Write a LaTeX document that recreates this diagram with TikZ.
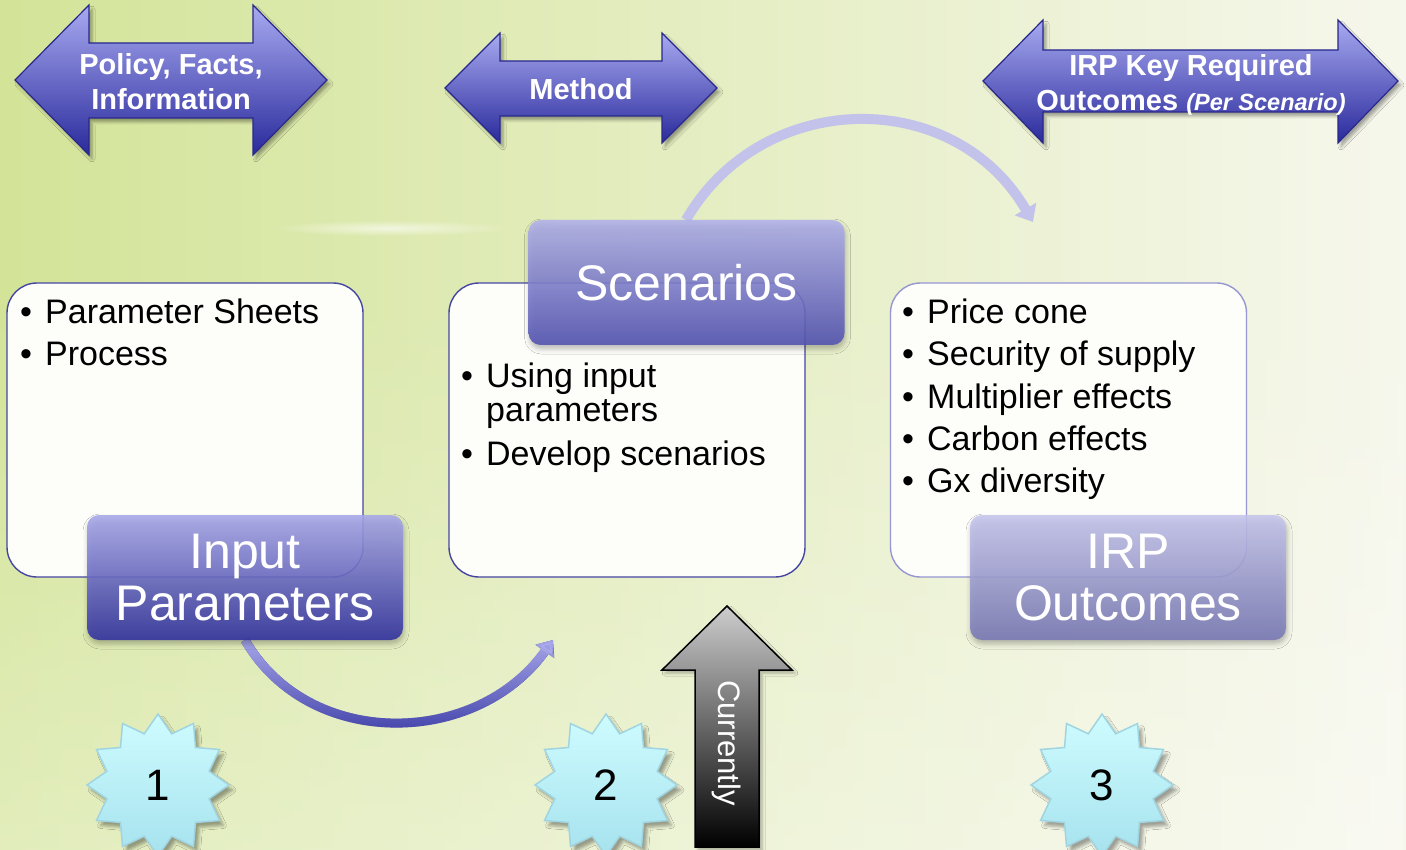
\documentclass[tikz,border=0pt]{standalone}
\usepackage{fontspec}
\setmainfont{Liberation Sans}
\usetikzlibrary{shapes.geometric,shadows.blur,fadings,arrows.meta,calc}

\definecolor{bgL}{RGB}{211,228,152}
\definecolor{bgM}{RGB}{238,243,218}
\definecolor{bgR}{RGB}{246,247,236}
\definecolor{arrTop}{RGB}{168,170,240}
\definecolor{arrBot}{RGB}{42,42,156}
\definecolor{arrLine}{RGB}{40,40,140}
\definecolor{boxLine}{RGB}{70,70,160}
\definecolor{boxLineL}{RGB}{150,150,210}
\definecolor{boxFill}{RGB}{253,254,250}
\definecolor{ipTop}{RGB}{168,168,234}
\definecolor{ipBot}{RGB}{48,48,160}
\definecolor{scTop}{RGB}{178,178,236}
\definecolor{scBot}{RGB}{82,82,178}
\definecolor{ocTop}{RGB}{198,198,238}
\definecolor{ocBot}{RGB}{120,120,182}
\definecolor{curveDark}{RGB}{44,44,156}
\definecolor{curveLight}{RGB}{170,170,236}
\definecolor{curveTop}{RGB}{194,194,234}
\definecolor{starTop}{RGB}{206,252,255}
\definecolor{starBot}{RGB}{166,226,238}
\definecolor{starLine}{RGB}{160,212,224}
\definecolor{curTop}{RGB}{205,205,205}

\tikzfading[name=glarefade, inner color=transparent!0, outer color=transparent!100]

\tikzset{
  darr/.style={top color=arrTop, bottom color=arrBot, draw=arrLine, line width=1.2pt,
    line join=miter,
    blur shadow={shadow xshift=3pt, shadow yshift=-4pt, shadow opacity=35, shadow blur radius=3pt}},
  atext/.style={text=white, font=\fontsize{29}{35}\selectfont\bfseries, align=center, inner sep=0pt},
  wbox/.style={draw=boxLine, line width=1.4pt, fill=boxFill, rounded corners=30pt,
    minimum width=356pt, minimum height=294pt, inner sep=0pt},
  lbl/.style={rounded corners=12pt, minimum width=316pt, minimum height=125pt,
    text=white, font=\fontsize{50}{52}\selectfont, align=center, inner sep=0pt,
    fill opacity=0.88, text opacity=1,
    blur shadow={shadow xshift=1pt, shadow yshift=-4pt, shadow opacity=30, shadow blur radius=5pt}},
  btxt/.style={anchor=base west, inner sep=0pt, font=\fontsize{34}{40}\selectfont},
  starsh/.style={star, star points=12, star point ratio=1.34, minimum size=142pt, inner sep=0pt,
    top color=starTop, bottom color=starBot, draw=starLine, line width=1.5pt,
    font=\fontsize{44}{50}\selectfont,
    blur shadow={shadow xshift=4pt, shadow yshift=-5pt, shadow opacity=35, shadow blur radius=3pt}},
  curarr/.style={top color=curTop, bottom color=black, draw=black, line width=1.5pt, line join=miter,
    blur shadow={shadow xshift=3pt, shadow yshift=-3pt, shadow opacity=30, shadow blur radius=3pt}},
}
\newcommand\bl{\makebox[25pt][l]{\textbullet}}

\begin{document}
\begin{tikzpicture}[x=1pt,y=-1pt]
\useasboundingbox (0,0) rectangle (1406,850);

% background
\shade[left color=bgL, middle color=bgM, right color=bgR] (0,0) rectangle (1406,850);
\fill[white, opacity=0.35, path fading=north] (0,300) rectangle (1406,850);
\fill[white, opacity=0.6, path fading=glarefade] (390,228) ellipse (120 and 8);

% top double arrows
\shadedraw[darr] (15,80) -- (89,5) -- (89,43) -- (253,43) -- (253,5) -- (327,80)
  -- (253,155) -- (253,118) -- (89,118) -- (89,155) -- cycle;
\shadedraw[darr] (445,88) -- (500,33) -- (500,61) -- (662,61) -- (662,33) -- (717,88)
  -- (662,143) -- (662,116) -- (500,116) -- (500,143) -- cycle;
\shadedraw[darr] (983,81) -- (1043,20) -- (1043,50) -- (1338,50) -- (1338,20) -- (1398,81)
  -- (1338,143) -- (1338,112) -- (1043,112) -- (1043,143) -- cycle;

\node[atext] (tpol) at (171,82) {Policy, Facts,\\Information};
\node[atext] (tmeth) at (581,89) {Method};
\node[atext] (tirp) at (1191,85) {IRP Key Required\\Outcomes {\fontsize{23.5}{26}\selectfont\itshape(Per Scenario)}};

% white content boxes
\node[wbox] (b1) at (185,430) {};
\node[wbox] (b2) at (627,430) {};
\node[wbox, draw=boxLineL] (b3) at (1068.5,430) {};

% coordinates for connector ends
\coordinate (c2in) at (553,640);
\coordinate (c3in) at (1033,222);
\coordinate (ipS) at (245,640);
\coordinate (scN) at (686,220);

% curved connectors
\draw[curveTop, line width=10pt, -{Triangle[width=24pt,length=15pt]}]
  (scN) .. controls (762,88) and (954,86) .. (c3in);
\draw[curveDark, line width=9pt, -{Triangle[width=22pt,length=14pt]}]
  (ipS) .. controls (309,751) and (477,747) .. (c2in);
\draw[curveLight, line width=9pt, -{Triangle[width=22pt,length=14pt]}, path fading=south]
  (ipS) .. controls (309,751) and (477,747) .. (c2in);

% label boxes
\node[lbl, top color=ipTop, bottom color=ipBot] (ip) at (245,577.5) {Input\\Parameters};
\node[lbl, top color=scTop, bottom color=scBot] (scen) at (686.5,282.5) {Scenarios};
\node[lbl, top color=ocTop, bottom color=ocBot] (outc) at (1128,577.5) {IRP\\Outcomes};

% bullet texts
\node[btxt] (t11) at (20,324) {\bl Parameter Sheets};
\node[btxt] (t12) at (20,366) {\bl Process};

\node[btxt] (t21) at (461,387) {\bl Using input};
\node[btxt] (t22) at (486,421) {parameters};
\node[btxt] (t23) at (461,465) {\bl Develop scenarios};

\node[btxt] (t31) at (902,324) {\bl Price cone};
\node[btxt] (t32) at (902,366) {\bl Security of supply};
\node[btxt] (t33) at (902,408) {\bl Multiplier effects};
\node[btxt] (t34) at (902,450) {\bl Carbon effects};
\node[btxt] (t35) at (902,492) {\bl Gx diversity};

% stars
\node[starsh] (s1) at (158,785) {1};
\node[starsh] (s2) at (606,785) {2};
\node[starsh] (s3) at (1102,785) {3};

% currently arrow
\shadedraw[curarr] (727,606) -- (792,670) -- (759,670) -- (759,847) -- (695,847) -- (695,670)
  -- (662,670) -- cycle;
\node[rotate=-90, text=white, inner sep=0pt, font=\fontsize{31}{36}\selectfont] (cur) at (727,743) {Currently};
\end{tikzpicture}
\end{document}
